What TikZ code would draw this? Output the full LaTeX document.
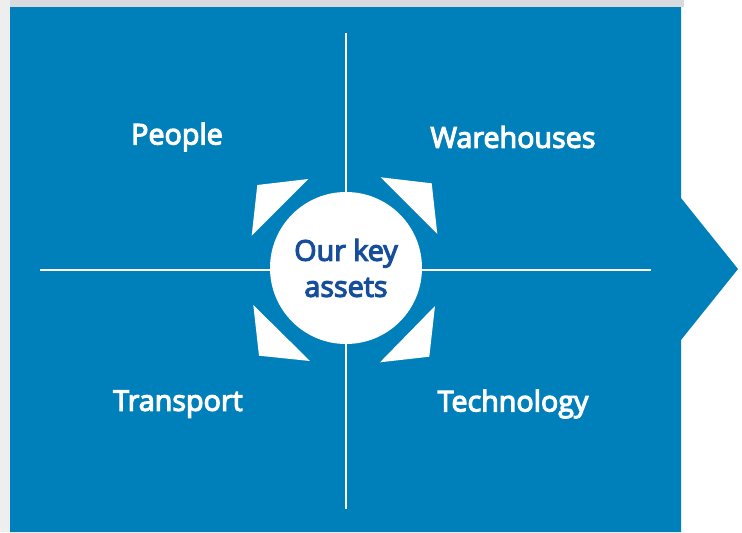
\documentclass[tikz,border=0pt]{standalone}
\usepackage{fontspec}
\setmainfont{Open Sans}
\newfontfamily\labelfont{Open Sans}[UprightFeatures={FakeBold=4}]
\usepackage{tikz}
\usetikzlibrary{positioning}
\definecolor{panelBlue}{RGB}{0,128,186}
\definecolor{deepBlue}{RGB}{22,78,156}
\definecolor{stripGray}{RGB}{216,218,222}
\definecolor{edgeGray}{RGB}{238,238,238}

\tikzset{
    quadlabel/.style={text=white, font=\labelfont\fontsize{21.5}{24}\selectfont},
    divider/.style={white, line width=1.6pt},
    pointer/.style={fill=white}
}

\begin{document}
\begin{tikzpicture}[x=0.75pt, y=-0.75pt]
    \useasboundingbox (0,0) rectangle (742,532);

    % backdrop and panel with its arrow
    \fill[edgeGray] (0,0) rectangle (10,532);
    \fill[stripGray] (10,0) rectangle (684,7);
    \fill[panelBlue] (10,7) -- (681,7) -- (681,198) -- (738,269)
        -- (681,340) -- (681,532) -- (10,532) -- cycle;

    % cross
    \coordinate (top) at (346,33);
    \coordinate (bottom) at (346,509);
    \coordinate (left) at (40,270);
    \coordinate (right) at (651,270);
    \draw[divider] (top) -- (bottom);
    \draw[divider] (left) -- (right);

    % pointers round the hub
    \fill[pointer] (257.3,185) -- (308.3,179) -- (251.7,235.7) -- cycle;
    \fill[pointer] (380.7,177.3) -- (431.7,183.3) -- (437.3,234) -- cycle;
    \fill[pointer] (253.3,305) -- (259,355.7) -- (310,361) -- cycle;
    \fill[pointer] (435,306) -- (429.3,356.7) -- (380,362.3) -- cycle;

    % hub
    \node[circle, fill=white, minimum size=114pt, inner sep=0pt,
          text=deepBlue, align=center,
          font=\labelfont\fontsize{21.5}{27}\selectfont] (hub) at (346,268)
        {Our key\\assets};

    % quadrants
    \node[quadlabel] (people) at (177,137) {People};
    \node[quadlabel] (warehouses) at (513,137) {Warehouses};
    \node[quadlabel] (transport) at (178,404) {Transport};
    \node[quadlabel] (technology) at (513,404) {Technology};
\end{tikzpicture}
\end{document}
